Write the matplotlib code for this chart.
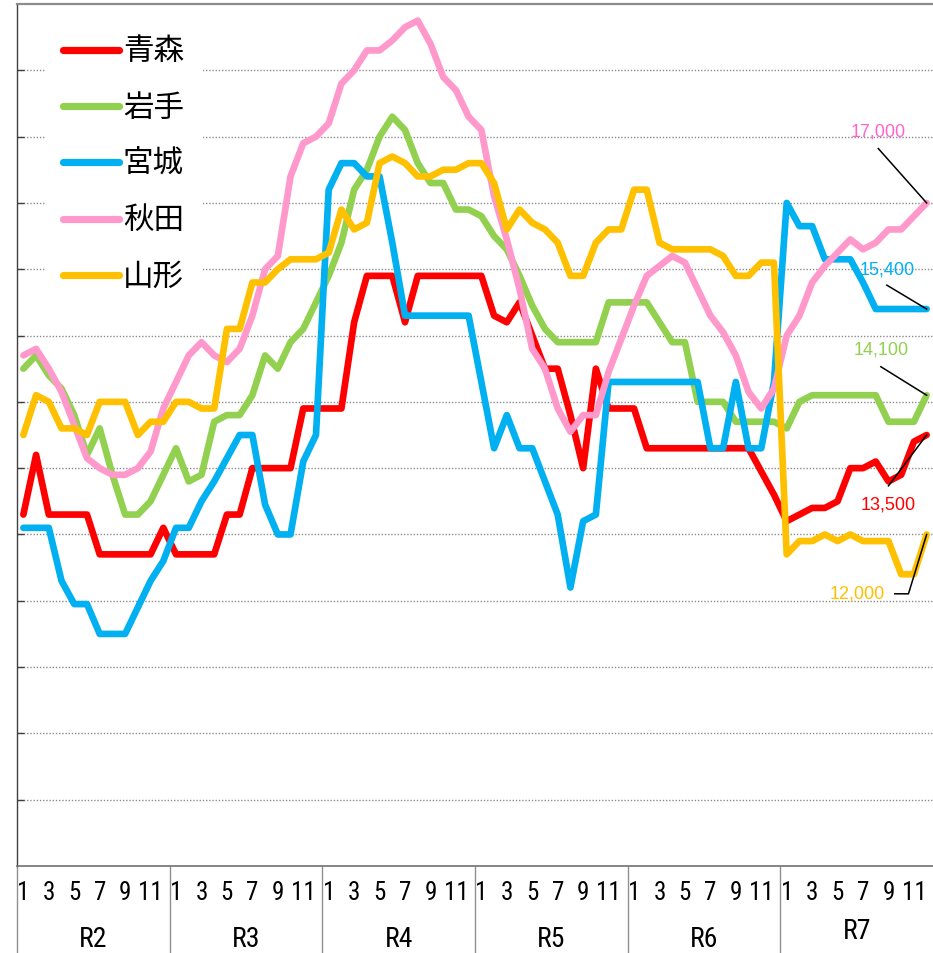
import matplotlib
matplotlib.use('Agg')
import matplotlib.pyplot as plt
from matplotlib import font_manager
from matplotlib.font_manager import FontProperties
from matplotlib.lines import Line2D
from matplotlib.patches import Rectangle

# ---------------- data ----------------
years = ['R2', 'R3', 'R4', 'R5', 'R6', 'R7']
month_labels = [1, 3, 5, 7, 9, 11]
series_names = ['青森', '岩手', '宮城', '秋田', '山形']

aomori = [12300, 13200, 12300, 12300, 12300, 12300, 11700, 11700, 11700, 11700, 11700, 12100,
          11700, 11700, 11700, 11700, 12300, 12300, 13000, 13000, 13000, 13000, 13900, 13900,
          13900, 13900, 15200, 15900, 15900, 15900, 15200, 15900, 15900, 15900, 15900, 15900,
          15900, 15300, 15200, 15500, 15000, 14500, 14500, 13800, 13000, 14500, 13900, 13900,
          13900, 13300, 13300, 13300, 13300, 13300, 13300, 13300, 13300, 13300, 12950, 12600,
          12200, 12300, 12400, 12400, 12500, 13000, 13000, 13100, 12800, 12900, 13400, 13500]
iwate = [14500, 14700, 14400, 14200, 13800, 13200, 13600, 12900, 12300, 12300, 12500, 12900,
         13300, 12800, 12900, 13700, 13800, 13800, 14100, 14700, 14500, 14900, 15100, 15500,
         15900, 16400, 17200, 17500, 18000, 18300, 18100, 17600, 17300, 17300, 16900, 16900,
         16800, 16500, 16300, 15900, 15450, 15100, 14900, 14900, 14900, 14900, 15500, 15500,
         15500, 15500, 15200, 14900, 14900, 14000, 14000, 14000, 13700, 13700, 13700, 13700,
         13600, 14000, 14100, 14100, 14100, 14100, 14100, 14100, 13700, 13700, 13700, 14100]
miyagi = [12100, 12100, 12100, 11300, 10950, 10950, 10500, 10500, 10500, 10900, 11300, 11600,
          12100, 12100, 12500, 12800, 13150, 13500, 13500, 12450, 12000, 12000, 13100, 13500,
          17200, 17600, 17600, 17400, 17400, 16400, 15300, 15300, 15300, 15300, 15300, 15300,
          14300, 13300, 13800, 13300, 13300, 12800, 12300, 11200, 12200, 12300, 14300, 14300,
          14300, 14300, 14300, 14300, 14300, 14300, 13300, 13300, 14300, 13300, 13300, 14300,
          17000, 16650, 16650, 16150, 16150, 16150, 15800, 15400, 15400, 15400, 15400, 15400]
akita = [14700, 14800, 14500, 14150, 13650, 13150, 13000, 12900, 12900, 13000, 13250, 13900,
         14300, 14700, 14900, 14700, 14600, 14800, 15300, 16000, 16200, 17400, 17900, 18000,
         18200, 18800, 19000, 19300, 19300, 19450, 19650, 19750, 19400, 18900, 18700, 18300,
         18100, 17100, 16450, 15700, 14800, 14500, 13900, 13550, 13800, 13800, 14450, 14950,
         15450, 15900, 16050, 16200, 16100, 15700, 15300, 15050, 14700, 14150, 13900, 14200,
         15000, 15300, 15800, 16050, 16250, 16450, 16300, 16400, 16600, 16600, 16800, 17000]
yamagata = [13500, 14100, 14000, 13600, 13600, 13500, 14000, 14000, 14000, 13500, 13700, 13700,
            14000, 14000, 13900, 13900, 15100, 15100, 15800, 15800, 16000, 16150, 16150, 16150,
            16250, 16900, 16600, 16700, 17600, 17700, 17600, 17400, 17400, 17500, 17500, 17600,
            17600, 17300, 16600, 16900, 16700, 16600, 16400, 15900, 15900, 16400, 16600, 16600,
            17200, 17200, 16400, 16300, 16300, 16300, 16300, 16200, 15900, 15900, 16100, 16100,
            11700, 11900, 11900, 12000, 11900, 12000, 11900, 11900, 11900, 11400, 11400, 12000]

series = [aomori, iwate, miyagi, akita, yamagata]
colors = ['#FF0000', '#92D050', '#00B0F0', '#FF99CC', '#FFC000']
label_colors = ['#FF0000', '#92D050', '#00B0F0', '#FF66CC', '#FFC000']

# ---------------- figure ----------------
W, H = 933, 954
fig = plt.figure(figsize=(W / 100, H / 100), dpi=100)
ax_left, ax_right, ax_top, ax_bottom = 17, 933, 5, 867
ax = fig.add_axes([ax_left / W, (H - ax_bottom) / H,
                   (ax_right - ax_left) / W, (ax_bottom - ax_top) / H])

# look for a condensed sans face for the category axis
cond = None
pref = ['Liberation Sans Narrow', 'Arial Narrow', 'Roboto Condensed', 'Noto Sans',
        'DejaVu Sans', 'Open Sans', 'Lato', 'Inter']
cands = [f for f in font_manager.fontManager.ttflist
         if (f.stretch in ('condensed', 'semi-condensed', 'extra-condensed')
             or 'Narrow' in f.name or 'Condensed' in f.name)
         and f.style == 'normal' and f.weight in (400, 'normal', 'regular')]
for p in pref:
    for f in cands:
        if f.name.startswith(p):
            cond = f
            break
    if cond is not None:
        break
if cond is not None:
    m_prop = FontProperties(fname=cond.fname, size=18)
    y_prop = FontProperties(fname=cond.fname, size=20)
else:
    m_prop = FontProperties(family=['Liberation Sans', 'DejaVu Sans'], size=16)
    y_prop = FontProperties(family=['Liberation Sans', 'DejaVu Sans'], size=19)

n = len(aomori)
x = list(range(n))
for vals, c in zip(series, colors):
    ax.plot(x, vals, color=c, lw=4.8, solid_joinstyle='round',
            solid_capstyle='round', zorder=3, clip_on=False)

ax.set_xlim(-0.5, n - 0.5)
ax.set_ylim(7000, 20000)

# gridlines
for v in range(8000, 20000, 1000):
    ax.axhline(v, color='#8c8c8c', lw=1.0, ls=(0, (1, 1.3)), zorder=1)

ax.spines['right'].set_visible(False)
ax.spines['top'].set_color('#8c8c8c')
ax.spines['top'].set_linewidth(1.6)
ax.spines['left'].set_color('#404040')
ax.spines['left'].set_linewidth(1.0)
ax.spines['bottom'].set_color('#707070')
ax.spines['bottom'].set_linewidth(1.2)

ax.set_yticks(range(8000, 20000, 1000))
ax.set_yticklabels([])
ax.tick_params(axis='y', direction='in', length=5, width=1, color='#404040')

ax.set_xticks([])
ax.set_xticks([12 * i - 0.5 for i in range(len(years))], minor=True)
ax.tick_params(axis='x', which='minor', direction='out', length=87 / 1.389,
               width=1, color='#909090')

xt = ax.get_xaxis_transform()
ah = ax_bottom - ax_top
for i, yr in enumerate(years):
    for m in month_labels:
        ax.text(12 * i + m - 1, -(893 - ax_bottom) / ah, str(m), transform=xt,
                ha='center', va='center', fontproperties=m_prop)
    ypix = 932 if yr == 'R7' else 940
    ax.text(12 * i + 5.5, -(ypix - ax_bottom) / ah, yr, transform=xt,
            ha='center', va='center', fontproperties=y_prop)

# end-value annotations (text centre, leader path)
ann = [
    (68.0, 12455, [(68.0, 12733), (n - 1, aomori[-1])]),
    (67.46, 14800, [(67.4, 14530), (n - 1, iwate[-1])]),
    (67.9, 16000, [(67.87, 15760), (n - 1, miyagi[-1])]),
    (67.2, 18090, [(67.2, 17820), (n - 1, akita[-1])]),
    (65.57, 11110, [(68.5, 11105), (69.57, 11105), (n - 1, yamagata[-1])]),
]
for (tx, ty, path), vals, lc in zip(ann, series, label_colors):
    ax.text(tx, ty, f"{vals[-1]:,}", color=lc, fontsize=13,
            family=['Liberation Sans', 'DejaVu Sans'], ha='center', va='center', zorder=5)
    ax.plot([p[0] for p in path], [p[1] for p in path], color='black', lw=1.1,
            zorder=6, clip_on=False)

# legend (drawn in figure pixels)
def fx(px):
    return px / W

def fy(py):
    return 1 - py / H

fig.add_artist(Rectangle((fx(45), fy(305)), fx(203) - fx(45), fy(18) - fy(305),
                         transform=fig.transFigure, facecolor='white',
                         edgecolor='none', zorder=2))
for k, (name, c) in enumerate(zip(series_names, colors)):
    yy = 51 + 56.2 * k
    fig.add_artist(Line2D([fx(63), fx(119)], [fy(yy), fy(yy)], transform=fig.transFigure,
                          color=c, lw=5.2, solid_capstyle='round', zorder=3))
    fig.text(fx(123), fy(yy + 1), name, fontsize=22,
             family=['Noto Sans CJK JP', 'DejaVu Sans'], ha='left', va='center',
             color='black', zorder=4)

fig.savefig('out.png', dpi=100)
